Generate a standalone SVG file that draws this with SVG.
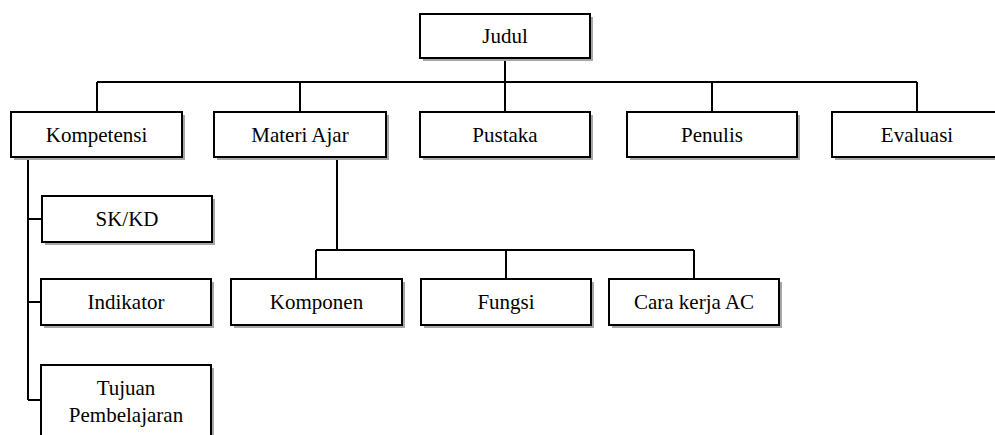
<svg xmlns="http://www.w3.org/2000/svg" width="995" height="435" viewBox="0 0 995 435">
<defs>
<style>
.sh{fill:#a6a6a6;}
.bx{fill:#fff;stroke:#000;stroke-width:2;}
.c{fill:none;stroke:#000;stroke-width:2;}
</style>
</defs>
<rect width="995" height="435" fill="#fff"/>
<g id="connectors">
<path class="c" d="M505 58V82M97 82H917M97 82V112M300 82V112M505 82V112M712 82V112M917 82V112"/>
<path class="c" d="M28 157V400M28 219H42M28 302H41M28 400H41"/>
<path class="c" d="M337 157V250M316 250H694M316 250V279M506 250V279M694 250V279"/>
</g>
<g font-family="'Liberation Serif', 'Times New Roman', 'DejaVu Serif', serif" font-size="21" text-anchor="middle" fill="#000">
<g id="judul"><rect class="sh" x="423" y="17" width="170" height="44"/><rect class="bx" x="420" y="14" width="170" height="44"/><text x="505" y="43">Judul</text></g>
<g id="kompetensi"><rect class="sh" x="14" y="115" width="171" height="45"/><rect class="bx" x="11" y="112" width="171" height="45"/><text x="96.5" y="142">Kompetensi</text></g>
<g id="materi"><rect class="sh" x="217" y="115" width="172" height="45"/><rect class="bx" x="214" y="112" width="172" height="45"/><text x="300" y="142">Materi Ajar</text></g>
<g id="pustaka"><rect class="sh" x="423" y="115" width="170" height="45"/><rect class="bx" x="420" y="112" width="170" height="45"/><text x="505" y="142">Pustaka</text></g>
<g id="penulis"><rect class="sh" x="630" y="115" width="170" height="45"/><rect class="bx" x="627" y="112" width="170" height="45"/><text x="712" y="142">Penulis</text></g>
<g id="evaluasi"><rect class="sh" x="835" y="115" width="170" height="45"/><rect class="bx" x="832" y="112" width="170" height="45"/><text x="917" y="142">Evaluasi</text></g>
<g id="skkd"><rect class="sh" x="45" y="199" width="170" height="46"/><rect class="bx" x="42" y="196" width="170" height="46"/><text x="127" y="226">SK/KD</text></g>
<g id="indikator"><rect class="sh" x="44" y="282" width="170" height="46"/><rect class="bx" x="41" y="279" width="170" height="46"/><text x="126" y="309">Indikator</text></g>
<g id="tujuan"><rect class="sh" x="44" y="368" width="170" height="80"/><rect class="bx" x="41" y="365" width="170" height="80"/><text x="126" y="395">Tujuan</text><text x="126" y="422">Pembelajaran</text></g>
<g id="komponen"><rect class="sh" x="234" y="282" width="171" height="46"/><rect class="bx" x="231" y="279" width="171" height="46"/><text x="316.5" y="309">Komponen</text></g>
<g id="fungsi"><rect class="sh" x="424" y="282" width="170" height="46"/><rect class="bx" x="421" y="279" width="170" height="46"/><text x="506" y="309">Fungsi</text></g>
<g id="carakerja"><rect class="sh" x="612" y="282" width="170" height="46"/><rect class="bx" x="609" y="279" width="170" height="46"/><text x="694" y="309">Cara kerja AC</text></g>
</g>
</svg>
